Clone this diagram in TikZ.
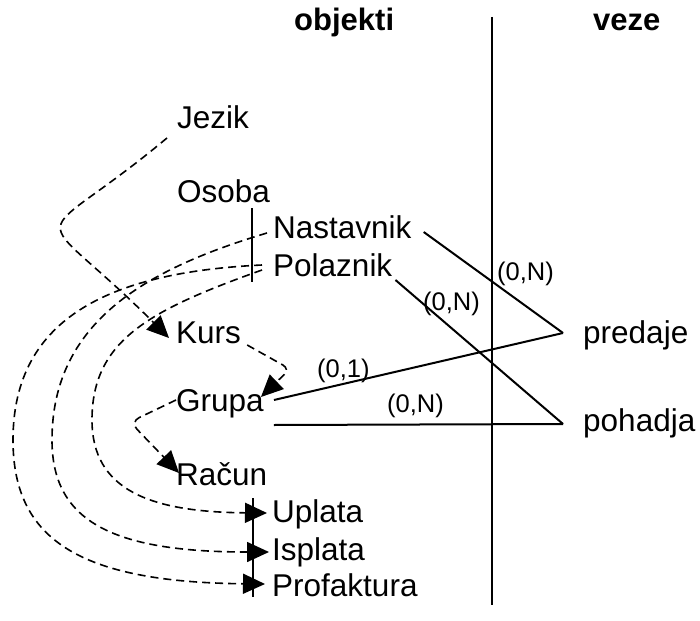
\documentclass[tikz,border=0pt]{standalone}
\usepackage{fontspec}
\setmainfont{Liberation Sans}
\usetikzlibrary{arrows.meta}

\begin{document}
\begin{tikzpicture}
  [x=1pt,y=-1pt,every node/.style={anchor=base west,inner sep=0pt,text height=22pt,text depth=6pt,font=\fontsize{31.5}{38}\selectfont},
   card/.style={font=\fontsize{25.5}{30}\selectfont,text height=18pt,text depth=5pt},
   title/.style={font=\fontsize{31}{36}\selectfont\bfseries},
   link/.style={dash pattern=on 8pt off 5pt,line width=1.6pt,-{Triangle[length=22pt,width=20pt]}},
   rel/.style={line width=2pt}]

  \useasboundingbox (0,0) rectangle (700,620);

  \node[title] (objekti) at (294,31) {objekti};
  \node[title] (veze) at (593,31) {veze};
  \draw[line width=1.5pt] (492,17) -- (492,605);

  \foreach \nm/\txt/\x/\y in {jezik/Jezik/177/129, osoba/Osoba/177/202,
      nastavnik/Nastavnik/273/238, polaznik/Polaznik/273/276,
      kurs/Kurs/176/343, grupa/Grupa/176/411, racun/Račun/176/485,
      uplata/Uplata/272/522, isplata/Isplata/272/560, profaktura/Profaktura/272/596,
      predaje/predaje/583/343, pohadja/pohadja/583/431}
    \node (\nm) at (\x,\y) {\txt};

  \draw[line width=1.5pt] ([shift={(-21,-22)}]nastavnik.west) -- ([shift={(-21,14)}]polaznik.west);
  \draw[line width=1.5pt] ([shift={(-19,-16)}]uplata.west) -- ([shift={(-19,9)}]profaktura.west);

  \node[card] (cNast) at (497,280) {(0,N)};
  \node[card] (cPol) at (423,310) {(0,N)};
  \node[card] (cGrPr) at (317,377) {(0,1)};
  \node[card] (cGrPo) at (387,412) {(0,N)};

  \draw[rel] ([shift={(12,2)}]nastavnik.east) -- ([shift={(-20,-2)}]predaje.west);
  \draw[rel] ([shift={(3,12)}]polaznik.east) -- ([shift={(-20,1)}]pohadja.west);
  \draw[rel] ([shift={(10,-3)}]grupa.east) -- ([shift={(-20,-2)}]predaje.west);
  \draw[rel] ([shift={(10,22)}]grupa.east) -- ([shift={(-20,1)}]pohadja.west);

  \draw[link] ([shift={(-10,17)}]jezik.west) .. controls (27,255) and (27,196) .. ([shift={(-7,3)}]kurs.west);
  \draw[link,rounded corners=8pt] ([shift={(6,10)}]kurs.east) -- (290,369) -- ([shift={(-3,-6)}]grupa.east);
  \draw[link,rounded corners=10pt] ([shift={(0,-3)}]grupa.west) -- (130,422) -- ([shift={(3,-4)}]racun.west);
  \draw[link] ([shift={(-6,3)}]nastavnik.west) .. controls (150,268) and (52,320) .. (52,440)
    .. controls (52,520) and (110,552) .. ([shift={(-3,0)}]isplata.west);
  \draw[link] ([shift={(-11,-3)}]polaznik.west) .. controls (115,272) and (13,315) .. (13,440)
    .. controls (13,540) and (80,582) .. ([shift={(-7,-4)}]profaktura.west);
  \draw[link] ([shift={(-11,2)}]polaznik.west) .. controls (150,310) and (92,340) .. (92,420)
    .. controls (92,490) and (150,512) .. ([shift={(-5,-1)}]uplata.west);
\end{tikzpicture}
\end{document}
